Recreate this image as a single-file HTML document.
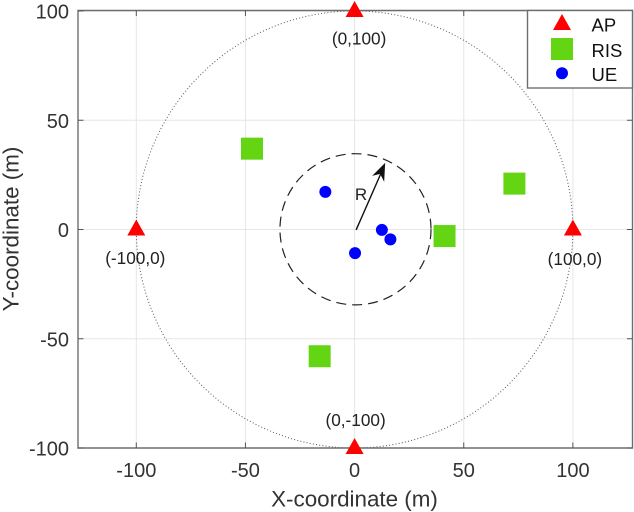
<!DOCTYPE html>
<html>
<head>
<meta charset="utf-8">
<style>
html,body{margin:0;padding:0;background:#fff;}
svg{display:block;font-family:"Liberation Sans",sans-serif;}
</style>
</head>
<body>
<svg id="chart" width="634" height="512" viewBox="0 0 634 512" xmlns="http://www.w3.org/2000/svg"></svg>
<script>
const xTicks = [-100, -50, 0, 50, 100];
const yTicks = [-100, -50, 0, 50, 100];
const apX = [0, 0, -100, 100];
const apY = [100, -100, 0, 0];
const apLabels = ['(0,100)', '(0,-100)', '(-100,0)', '(100,0)'];
const risX = [-47, 73.2, 41.2, -16];
const risY = [37, 21, -3, -58];
const ueX = [-13.4, 12.5, 16.4, 0.2];
const ueY = [17.2, -0.2, -4.5, -10.8];
const outerRadius = [100];
const innerRadius = [34.6];
const innerCenter = [0.4, 0.1];
const arrowTip = [14, 30.5];
const legendLabels = ['AP', 'RIS', 'UE'];

const X0 = 354.6, Y0 = 229.5, SX = 2.183, SY = 2.185;
const L = 78, R = 632.5, T = 10.5, B = 448;
const sx = v => X0 + v * SX;
const sy = v => Y0 - v * SY;
const svg = document.getElementById('chart');
function mk(tag, attrs, parent, text) {
  const e = document.createElementNS('http://www.w3.org/2000/svg', tag);
  for (const k in attrs) e.setAttribute(k, attrs[k]);
  if (text !== undefined) e.textContent = text;
  (parent || svg).appendChild(e);
  return e;
}
const tri = (cx, cy) => `${cx},${cy - 10} ${cx - 9},${cy + 6} ${cx + 9},${cy + 6}`;

const bg = mk('rect', {x: L, y: T, width: R - L, height: B - T, fill: '#fff'});



xTicks.forEach(v => {
  const g = mk('line', {x1: sx(v), x2: sx(v), y1: T, y2: B, stroke: '#e6e6e6', 'stroke-width': 1});
  
  
});
yTicks.forEach(v => {
  const g = mk('line', {x1: L, x2: R, y1: sy(v), y2: sy(v), stroke: '#e6e6e6', 'stroke-width': 1});
  
  
});

const outer = mk('ellipse', {cx: sx(0), cy: sy(0), rx: outerRadius[0] * SX, ry: outerRadius[0] * SY, fill: 'none', stroke: '#555', 'stroke-width': 1, 'stroke-dasharray': '1 2.2'});


const inner = mk('ellipse', {cx: sx(innerCenter[0]), cy: sy(innerCenter[1]), rx: innerRadius[0] * SX, ry: innerRadius[0] * SY, fill: 'none', stroke: '#222', 'stroke-width': 1.2, 'stroke-dasharray': '10 6'});



const axes = mk('path', {d: `M${L} ${T}H${R}V${B}H${L}Z`, fill: 'none', stroke: '#6e6e6e', 'stroke-width': 1.4});



xTicks.forEach(v => {
  const t = mk('path', {d: `M${sx(v)} ${B}v-5.5M${sx(v)} ${T}v5.5`, stroke: '#555', 'stroke-width': 1, fill: 'none'});
  
  
  const l = mk('text', {x: sx(v), y: B + 29, 'text-anchor': 'middle', 'font-size': 20, fill: '#333'}, svg, String(v));
  
  
});
yTicks.forEach(v => {
  const t = mk('path', {d: `M${L} ${sy(v)}h5.5M${R} ${sy(v)}h-5.5`, stroke: '#555', 'stroke-width': 1, fill: 'none'});
  
  
  const l = mk('text', {x: 69, y: sy(v) + 7.5, 'text-anchor': 'end', 'font-size': 20, fill: '#333'}, svg, String(v));
  
  
});

const xTitle = mk('text', {x: 354.5, y: 506.5, 'text-anchor': 'middle', 'font-size': 22.4, fill: '#333'}, svg, 'X-coordinate (m)');


const yTitle = mk('text', {x: 0, y: 0, transform: 'translate(18.5 229) rotate(-90)', 'text-anchor': 'middle', 'font-size': 22.4, fill: '#333'}, svg, 'Y-coordinate (m)');



risX.forEach((v, i) => {
  const m = mk('rect', {x: sx(v) - 11, y: sy(risY[i]) - 11, width: 22, height: 22, fill: '#63d513'});
  
  
});
ueX.forEach((v, i) => {
  const m = mk('circle', {cx: sx(v), cy: sy(ueY[i]), r: 6, fill: '#0000ff'});
  
  
});
apX.forEach((v, i) => {
  const m = mk('polygon', {points: tri(sx(v), sy(apY[i])), fill: '#ff0000'});
  
  
});

const labelOffsets = [[4.5, 33.5], [1, -22], [-1, 34.5], [2, 35.5]];
apLabels.forEach((s, i) => {
  const t = mk('text', {x: sx(apX[i]) + labelOffsets[i][0], y: sy(apY[i]) + labelOffsets[i][1], 'text-anchor': 'middle', 'font-size': 17.2, fill: '#222'}, svg, s);
  
  
});

const ax = sx(arrowTip[0]), ay = sy(arrowTip[1]);
const arrowLine = mk('line', {x1: sx(0.7), y1: sy(-0.2), x2: ax - 4, y2: ay + 10, stroke: '#111', 'stroke-width': 1.4});


const arrowHead = mk('polygon', {points: `${ax},${ay} ${ax - 13},${ay + 13} ${ax - 5},${ay + 11} ${ax - 1},${ay + 19}`, fill: '#111'});


const rLabel = mk('text', {x: 361, y: 200, 'text-anchor': 'middle', 'font-size': 17, fill: '#222'}, svg, 'R');



const legend = mk('g', {});


mk('rect', {x: 527.5, y: 10.5, width: 105, height: 77.5, fill: '#fff', stroke: '#6e6e6e', 'stroke-width': 1.4}, legend);
const legendY = [24, 49, 73.3];
const legendBase = [31.5, 57, 81];
legendLabels.forEach((s, i) => {
  if (i === 0) mk('polygon', {points: tri(562, legendY[i]), fill: '#ff0000'}, legend);
  if (i === 1) mk('rect', {x: 551, y: legendY[i] - 11, width: 22, height: 22, fill: '#63d513'}, legend);
  if (i === 2) mk('circle', {cx: 562, cy: legendY[i], r: 6, fill: '#0000ff'}, legend);
  const t = mk('text', {x: 591.5, y: legendBase[i], 'font-size': 18.5, fill: '#111'}, legend, s);
  
  
});
</script>
</body>
</html>
